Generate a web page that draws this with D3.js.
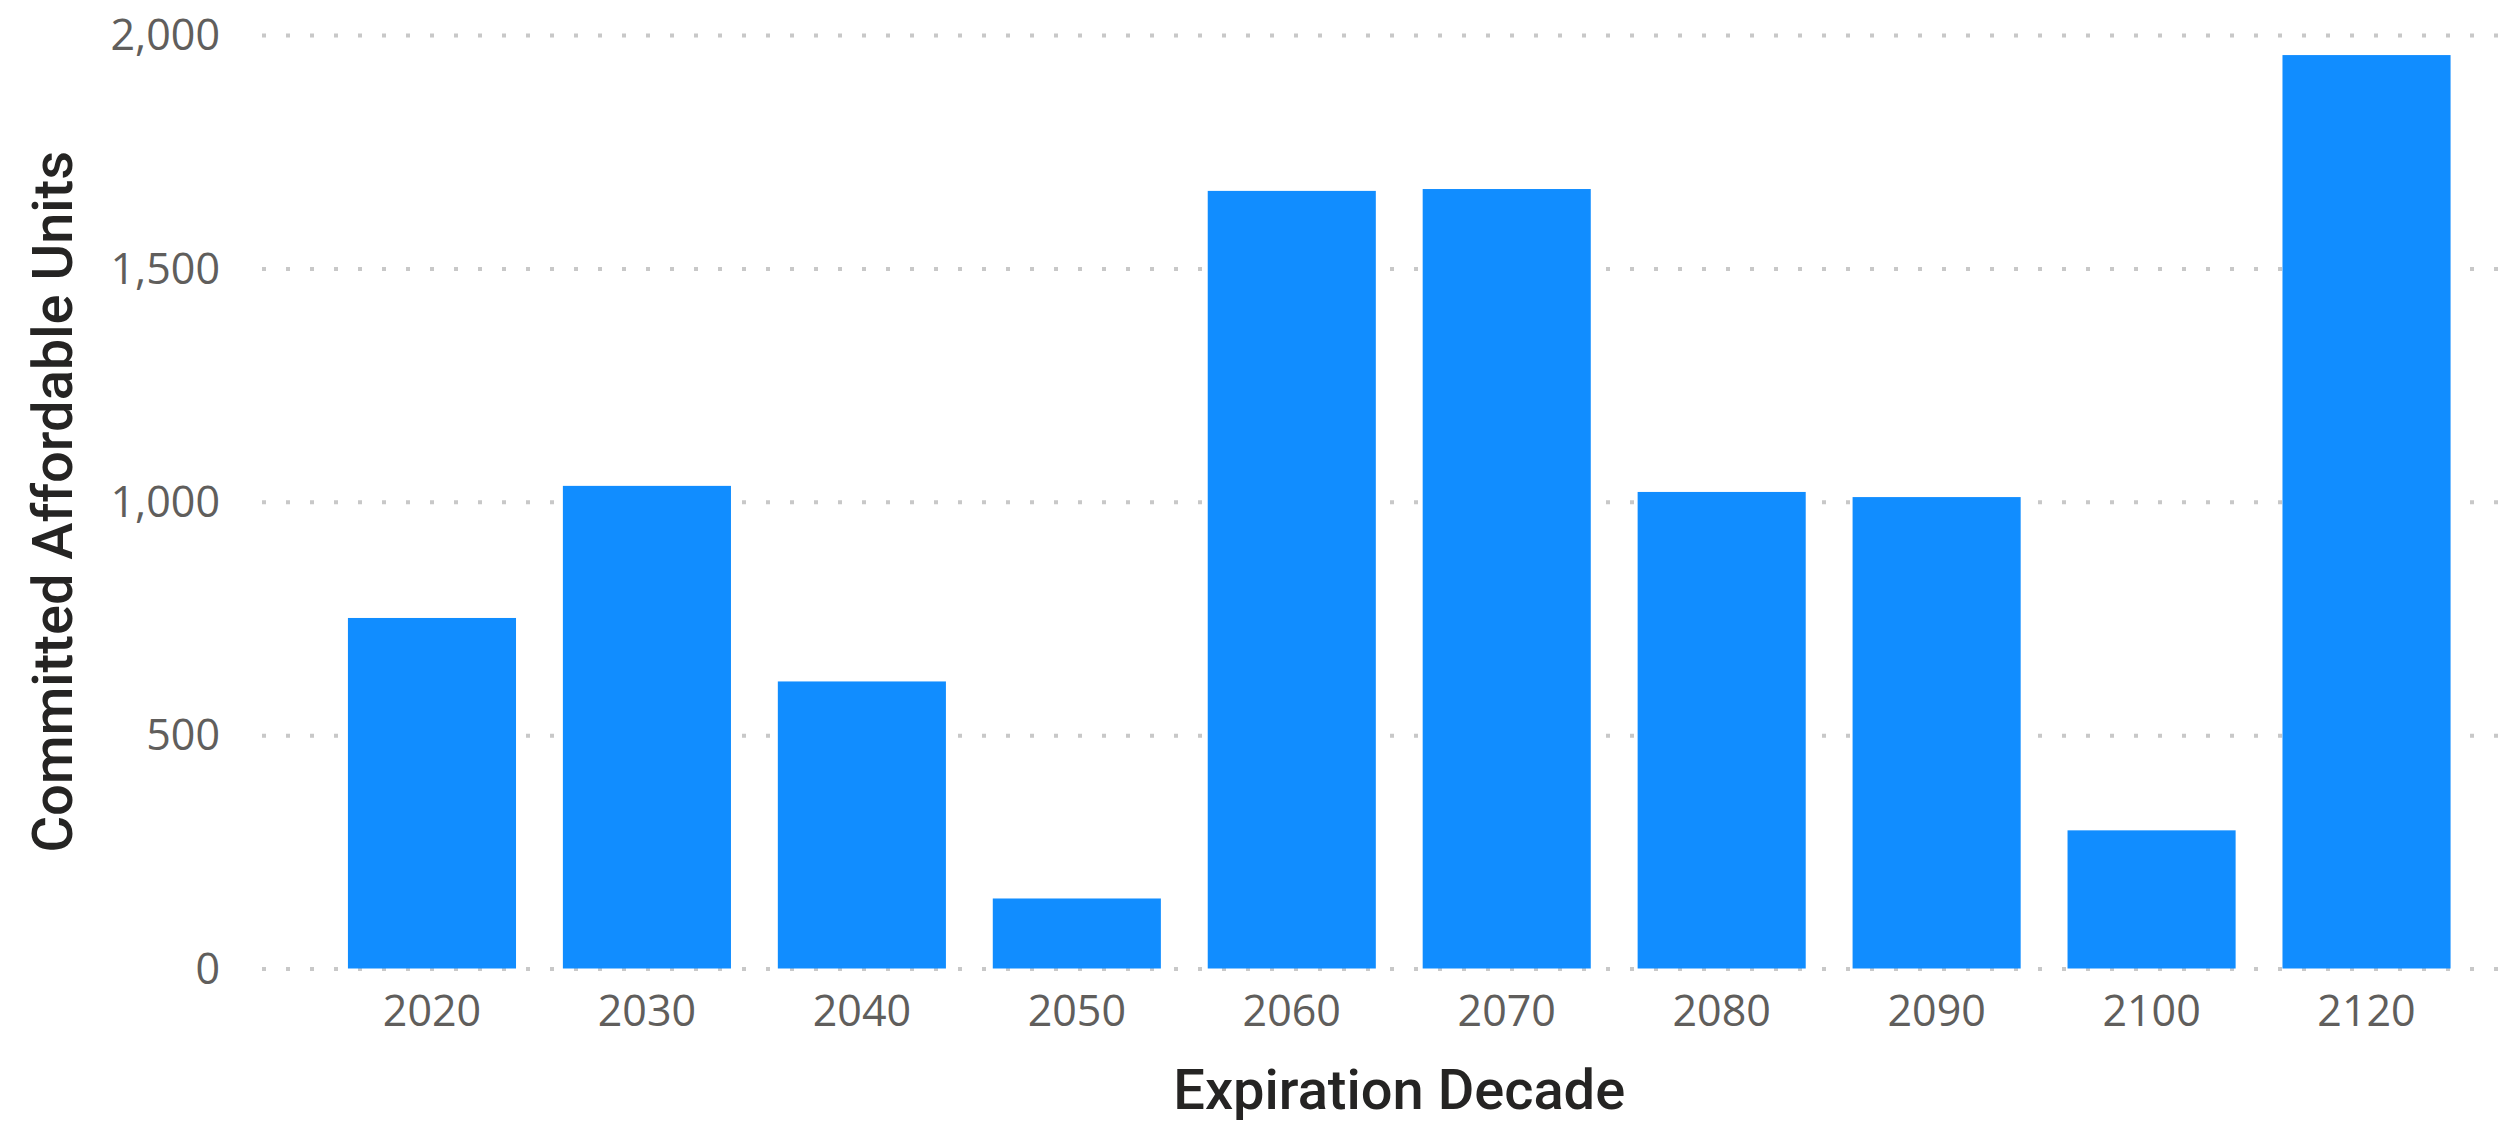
<!DOCTYPE html>
<html>
<head>
<meta charset="utf-8">
<script src="https://cdn.jsdelivr.net/npm/d3@7"></script>
<style>
  html, body { margin: 0; padding: 0; background: #ffffff; }
  svg { display: block; }
</style>
</head>
<body>
<svg id="chart" width="2503" height="1123"></svg>
<script>
// Committed affordable units by decade in which the commitment expires
const decades = ["2020", "2030", "2040", "2050", "2060", "2070", "2080", "2090", "2100", "2120"];
const units = [751, 1034, 615, 150, 1666, 1670, 1021, 1010, 296, 1957];
const yTicks = [0, 500, 1000, 1500, 2000];

const xTitle = "Expiration Decade";
const yTitle = "Committed Affordable Units";

const svg = d3.select("#chart");

const x = d3.scaleBand()
  .domain(decades)
  .range([324.5, 2474])
  .paddingInner(0.218)
  .paddingOuter(0.109);

const y = d3.scaleLinear()
  .domain([0, 2000])
  .range([968.5, 35]);

const gridLeft = 262, gridRight = 2500;

// dotted horizontal gridlines
svg.append("g")
  .attr("transform", `translate(${gridLeft},0)`)
  .call(d3.axisRight(y).tickValues(yTicks).tickSize(gridRight - gridLeft).tickFormat(""))
  .call(g => g.select(".domain").remove())
  .call(g => g.selectAll("line")
    .attr("stroke", "#c8c8c8")
    .attr("stroke-width", 4)
    .attr("stroke-dasharray", "4,20"));

// y tick labels
svg.append("g")
  .attr("transform", "translate(220,0)")
  .call(d3.axisLeft(y).tickValues(yTicks).tickSize(0).tickPadding(0).tickFormat(d3.format(",")))
  .call(g => g.select(".domain").remove())
  .call(g => g.selectAll("text")
    .attr("fill", "#605e5c")
    .attr("font-family", "'Open Sans', 'Noto Sans', sans-serif")
    .attr("font-weight", 400)
    .attr("font-size", 43)
    .attr("dy", "0.34em"));

// bars
svg.append("g")
  .selectAll("rect")
  .data(decades)
  .join("rect")
  .attr("x", d => x(d))
  .attr("width", x.bandwidth())
  .attr("y", (d, i) => y(units[i]))
  .attr("height", (d, i) => y(0) - y(units[i]))
  .attr("fill", "#118dff");

// x tick labels
svg.append("g")
  .attr("transform", "translate(0,995)")
  .call(d3.axisBottom(x).tickSize(0).tickPadding(0))
  .call(g => g.select(".domain").remove())
  .call(g => g.selectAll("text")
    .attr("fill", "#605e5c")
    .attr("font-family", "'Open Sans', 'Noto Sans', sans-serif")
    .attr("font-weight", 400)
    .attr("font-size", 43)
    .attr("dy", "0.71em"));

// axis titles
svg.append("text")
  .attr("x", (x.range()[0] + x.range()[1]) / 2)
  .attr("y", 1109)
  .attr("text-anchor", "middle")
  .attr("fill", "#252423")
  .attr("font-family", "Roboto, 'DejaVu Sans', sans-serif")
  .attr("font-weight", 500)
  .attr("font-size", 56)
  .text(xTitle);

svg.append("text")
  .attr("transform", `translate(72,${(y(0) + y(2000)) / 2}) rotate(-90)`)
  .attr("text-anchor", "middle")
  .attr("fill", "#252423")
  .attr("font-family", "Roboto, 'DejaVu Sans', sans-serif")
  .attr("font-weight", 500)
  .attr("font-size", 56)
  .text(yTitle);
</script>
</body>
</html>
